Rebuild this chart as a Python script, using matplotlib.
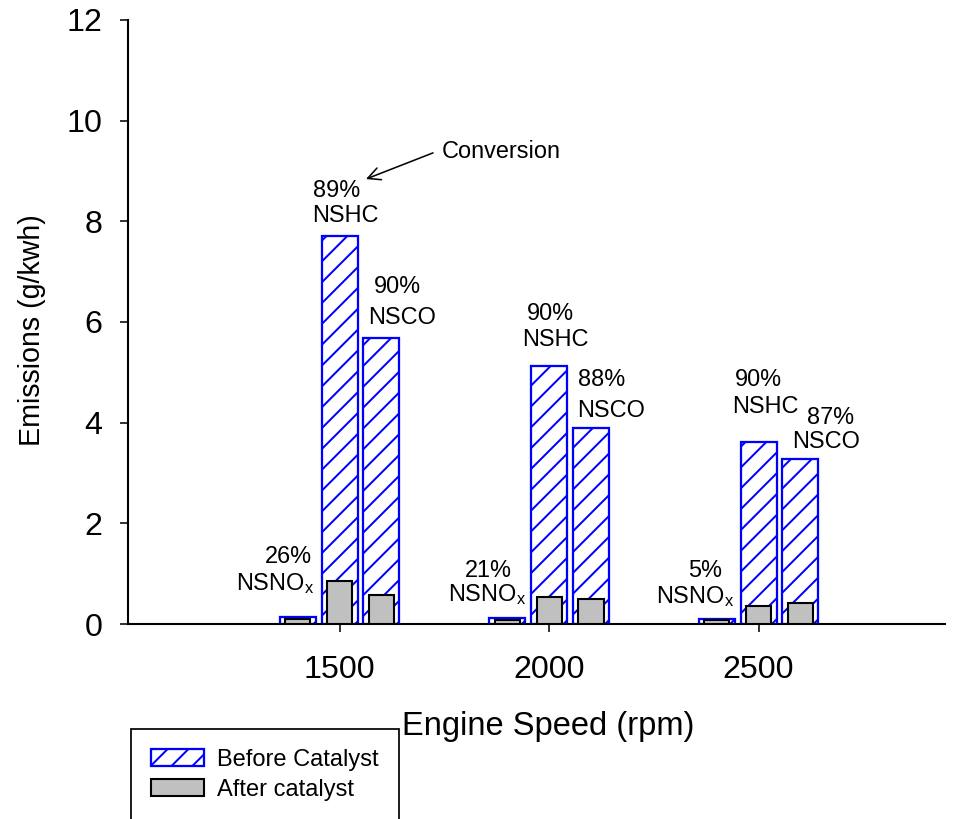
import matplotlib
matplotlib.use("Agg")
import matplotlib.pyplot as plt

plt.rcParams['font.family'] = ['Liberation Sans', 'DejaVu Sans']
plt.rcParams['mathtext.default'] = 'regular'
plt.rcParams['hatch.linewidth'] = 1.15

# ---- data ----
speeds = [1500, 2000, 2500]
speed_labels = ['1500', '2000', '2500']
before_nox = [0.13, 0.11, 0.10]
before_hc = [7.71, 5.13, 3.61]
before_co = [5.68, 3.89, 3.27]
after_nox = [0.09, 0.08, 0.08]
after_hc = [0.85, 0.53, 0.36]
after_co = [0.58, 0.49, 0.42]
nox_pct = ['26%', '21%', '5%']
hc_pct = ['89%', '90%', '90%']
co_pct = ['90%', '88%', '87%']

DPI = 125
fig = plt.figure(figsize=(957 / DPI, 819 / DPI), dpi=DPI)
ax = fig.add_axes([128 / 957, 1 - 624 / 819, (945 - 128) / 957, (624 - 20) / 819])

offset = 100
w_before = 86
w_after = 60
blue = '#0000ff'
gray = '#c0c0c0'

groups = [(-offset, before_nox, after_nox), (0, before_hc, after_hc), (offset, before_co, after_co)]
for i, (off, bvals, avals) in enumerate(groups):
    xs = [s + off for s in speeds]
    ax.bar(xs, bvals, width=w_before, facecolor='white', edgecolor=blue,
           hatch='//', linewidth=1.3, zorder=2,
           label='Before Catalyst' if i == 0 else None)
    ax.bar(xs, avals, width=w_after, facecolor=gray, edgecolor='black',
           linewidth=1.2, zorder=3,
           label='After catalyst' if i == 0 else None)

ax.set_xlim(995, 2945)
ax.set_ylim(0, 12)
ax.set_xticks(speeds)
ax.set_xticklabels(speed_labels)
ax.set_yticks([0, 2, 4, 6, 8, 10, 12])

for side in ['top', 'right']:
    ax.spines[side].set_visible(False)
for side in ['left', 'bottom']:
    ax.spines[side].set_linewidth(1.2)

ax.tick_params(axis='both', direction='out', length=4.6, width=0.9, labelsize=18.5)
ax.tick_params(axis='y', pad=10)
ax.tick_params(axis='x', pad=13)

ax.set_ylabel('Emissions (g/kwh)', fontsize=16.5, va='center')
ax.yaxis.set_label_coords(-0.118, 0.487)
ax.set_xlabel('Engine Speed (rpm)', fontsize=18.8, va='baseline')
ax.xaxis.set_label_coords(0.514, -0.1838)

# ---- annotations ----
fs = 13.5
nox_pos = [((1322, 1.212), (1253, 0.675)), ((1799, 0.934), (1759, 0.457)), ((2332, 0.934), (2255, 0.417))]
hc_pos = [((1437, 8.48), (1434, 7.99)), ((1947, 6.04), (1935, 5.52)), ((2444, 4.73), (2437, 4.19))]
co_pos = [((1582, 6.58), (1568, 5.96)), ((2069, 4.73), (2067, 4.11)), ((2616, 3.97), (2580, 3.50))]

for i in range(3):
    (p1, p2) = nox_pos[i]
    ax.text(p1[0], p1[1], nox_pct[i], fontsize=fs, ha='left', va='baseline')
    ax.text(p2[0], p2[1], 'NSNO$_\\mathregular{x}$', fontsize=fs, ha='left', va='baseline')
    (p1, p2) = hc_pos[i]
    ax.text(p1[0], p1[1], hc_pct[i], fontsize=fs, ha='left', va='baseline')
    ax.text(p2[0], p2[1], 'NSHC', fontsize=fs, ha='left', va='baseline')
    (p1, p2) = co_pos[i]
    ax.text(p1[0], p1[1], co_pct[i], fontsize=fs, ha='left', va='baseline')
    ax.text(p2[0], p2[1], 'NSCO', fontsize=fs, ha='left', va='baseline')

ax.text(1744, 9.26, 'Conversion', fontsize=fs, ha='left', va='baseline')
ax.annotate('', xy=(1563, 8.84), xytext=(1723, 9.36),
            arrowprops=dict(arrowstyle='->', lw=0.9, color='black',
                            shrinkA=0, shrinkB=0, mutation_scale=18))

# ---- legend ----
handles, labels = ax.get_legend_handles_labels()
leg = fig.legend(handles, labels, loc='upper left',
                 bbox_to_anchor=(131 / 957, 1 - 729 / 819), borderaxespad=0,
                 fontsize=13.6, frameon=True, fancybox=False, shadow=False,
                 handlelength=2.25, handleheight=0.72, handletextpad=0.55,
                 borderpad=0.85, labelspacing=0.32)
leg.get_frame().set_edgecolor('black')
leg.get_frame().set_linewidth(1.0)
leg.get_frame().set_alpha(None)

fig.savefig('out.png', dpi=DPI)
